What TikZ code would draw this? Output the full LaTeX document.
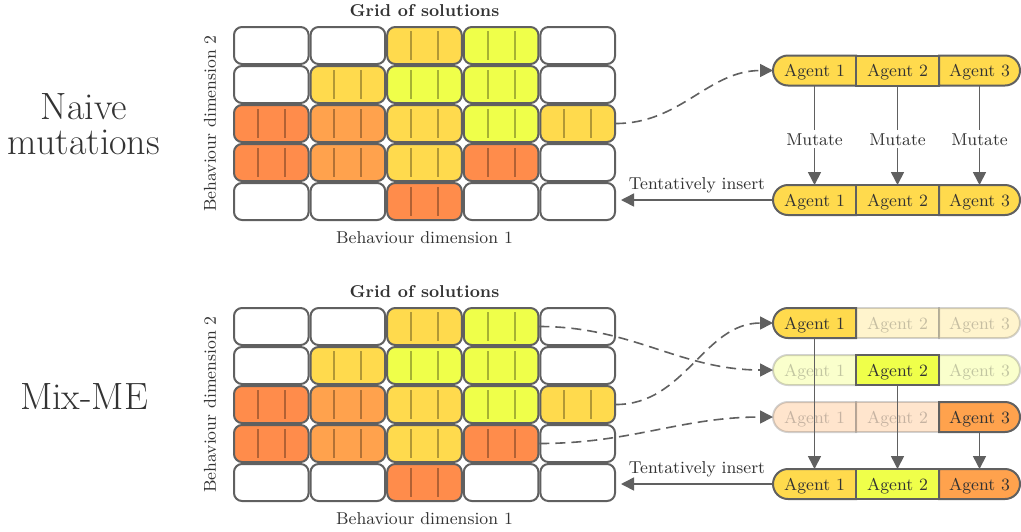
\documentclass[tikz,border=0pt]{standalone}
\usetikzlibrary{arrows.meta,backgrounds}
\definecolor{cO}{HTML}{FF8C4B}
\definecolor{cP}{HTML}{FFA24D}
\definecolor{cY}{HTML}{FFDA4D}
\definecolor{cL}{HTML}{EFFF4A}
\definecolor{cB}{HTML}{606060}
\definecolor{cT}{HTML}{333333}
\newcommand\smallf{\fontsize{8.6}{10}\selectfont}
\newcommand\bigf{\fontsize{19}{17.5}\selectfont}
\tikzset{
  cell/.style={draw=cB, line width=1pt, rounded corners=4pt, minimum width=37.3pt,
    minimum height=18.5pt, inner sep=0pt, outer sep=0.5pt},
  agentline/.style={draw=black, draw opacity=0.3, line width=0.95pt, sharp corners},
  lined/.style={path picture={\draw[agentline]
    ([xshift=-6.75pt,yshift=7.25pt]path picture bounding box.center) --
    ([xshift=-6.75pt,yshift=-7.25pt]path picture bounding box.center)
    ([xshift=6.75pt,yshift=7.25pt]path picture bounding box.center) --
    ([xshift=6.75pt,yshift=-7.25pt]path picture bounding box.center);}},
  seg/.style={minimum width=41.5pt, minimum height=15pt, inner sep=0pt, outer sep=0pt,
    text depth=0pt, font=\smallf, text=cT},
  segend/.style={seg, minimum width=40.5pt},
  segfill/.style={fill=#1, draw=cB, line width=1pt},
  faded/.style={opacity=0.28},
  fadedtext/.style={text opacity=0.28},
  arr/.style={draw=cB, line width=0.8pt, -{Triangle[length=6.5pt,width=6.5pt]}},
  dasharr/.style={arr, dash pattern=on 5pt off 3pt},
  lbl/.style={font=\smallf, text=cT},
  gtitle/.style={font=\smallf\bfseries, text=cT},
  big/.style={font=\bigf, text=cT, align=center},
}
\newcommand\segL[2]{\path[#2] (#1.north east) -- ([xshift=7.5pt]#1.north west)
  arc[start angle=90,end angle=270,radius=7.5pt] -- (#1.south east) -- cycle;}
\newcommand\segM[2]{\path[#2] (#1.north west) rectangle (#1.south east);}
\newcommand\segR[2]{\path[#2] (#1.north west) -- ([xshift=-7.5pt]#1.north east)
  arc[start angle=90,end angle=-90,radius=7.5pt] -- (#1.south west) -- cycle;}
\newcommand\agentnodes[5]{%
  \node[seg,#3] (#11) at (814.5,#2) {Agent 1};
  \node[seg,#4] (#12) at (897.5,#2) {Agent 2};
  \node[segend,#5] (#13) at (979.5,#2) {Agent 3};}
\newcommand\drawgrid[2]{%
  \foreach \r/\rowlist in {1/{W,W,Y,L,W},2/{W,Y,L,L,W},3/{O,P,Y,L,Y},4/{O,P,Y,O,W},5/{W,W,O,W,W}}{
    \foreach \k [count=\c] in \rowlist {
      \if\k W
        \node[cell, fill=white] (#1-\r-\c) at ({271.3+76.6*(\c-1)},{#2+39*(\r-1)}) {};
      \else
        \node[cell, lined, fill=c\k] (#1-\r-\c) at ({271.3+76.6*(\c-1)},{#2+39*(\r-1)}) {};
      \fi
    }
  }
  \node[gtitle] (#1-title) at (424.5,{#2-34.5}) {Grid of solutions};
  \node[lbl] (#1-xlab) at (424.5,{#2+192.5}) {Behaviour dimension 1};
  \node[lbl, rotate=90] (#1-ylab) at (210,{#2+78}) {Behaviour dimension 2};
}
\begin{document}
\begin{tikzpicture}[x=0.5pt,y=-0.5pt]
\begin{scope}[on background layer]
  \fill[white] (0,0) rectangle (1021,531);
\end{scope}
\useasboundingbox (0,0) rectangle (1021,531);

% left labels
\node[big] (naive) at (84,124) {Naive\\mutations};
\node[big] (mixme) at (84,397) {Mix-ME};

% grids
\drawgrid{g1}{45.5}
\drawgrid{g2}{326.5}

% agent bars
\agentnodes{tA}{70.5}{}{}{}
\agentnodes{tB}{200}{}{}{}
\agentnodes{bA}{323}{}{fadedtext}{fadedtext}
\agentnodes{bB}{370}{fadedtext}{}{fadedtext}
\agentnodes{bC}{417}{fadedtext}{fadedtext}{}
\agentnodes{bD}{484}{}{}{}

\begin{scope}[on background layer]
  \segL{tA1}{segfill=cY}\segM{tA2}{segfill=cY}\segR{tA3}{segfill=cY}
  \segL{tB1}{segfill=cY}\segM{tB2}{segfill=cY}\segR{tB3}{segfill=cY}
  \segM{bA2}{segfill=cY,faded}\segR{bA3}{segfill=cY,faded}\segL{bA1}{segfill=cY}
  \segL{bB1}{segfill=cL,faded}\segR{bB3}{segfill=cL,faded}\segM{bB2}{segfill=cL}
  \segL{bC1}{segfill=cP,faded}\segM{bC2}{segfill=cP,faded}\segR{bC3}{segfill=cP}
  \segL{bD1}{segfill=cY}\segM{bD2}{segfill=cL}\segR{bD3}{segfill=cP}
\end{scope}

% top connectors
\draw[dasharr] (g1-3-5.east) to[out=0,in=180] (tA1.west);
\foreach \i in {1,2,3}{
  \draw[arr] (tA\i.south) -- node[lbl, fill=white, inner sep=1.5pt, pos=0.54] {Mutate} (tB\i.north);
}
\path (g1-5-5.east |- tB1.west) ++(2.5pt,0) coordinate (tIn);
\draw[arr] (tB1.west) -- node[lbl, above] {Tentatively insert} (tIn);

% bottom connectors
\draw[dasharr] (g2-1-4.east) to[out=0,in=180] (bB1.west);
\draw[dasharr] (g2-3-5.east) to[out=0,in=180] (bA1.west);
\draw[dasharr] (g2-4-4.east) to[out=0,in=180] (bC1.west);
\draw[arr] (bA1.south) -- (bD1.north);
\draw[arr] (bB2.south) -- (bD2.north);
\draw[arr] (bC3.south) -- (bD3.north);
\path (g2-5-5.east |- bD1.west) ++(2.5pt,0) coordinate (bIn);
\draw[arr] (bD1.west) -- node[lbl, above] {Tentatively insert} (bIn);
\end{tikzpicture}
\end{document}
